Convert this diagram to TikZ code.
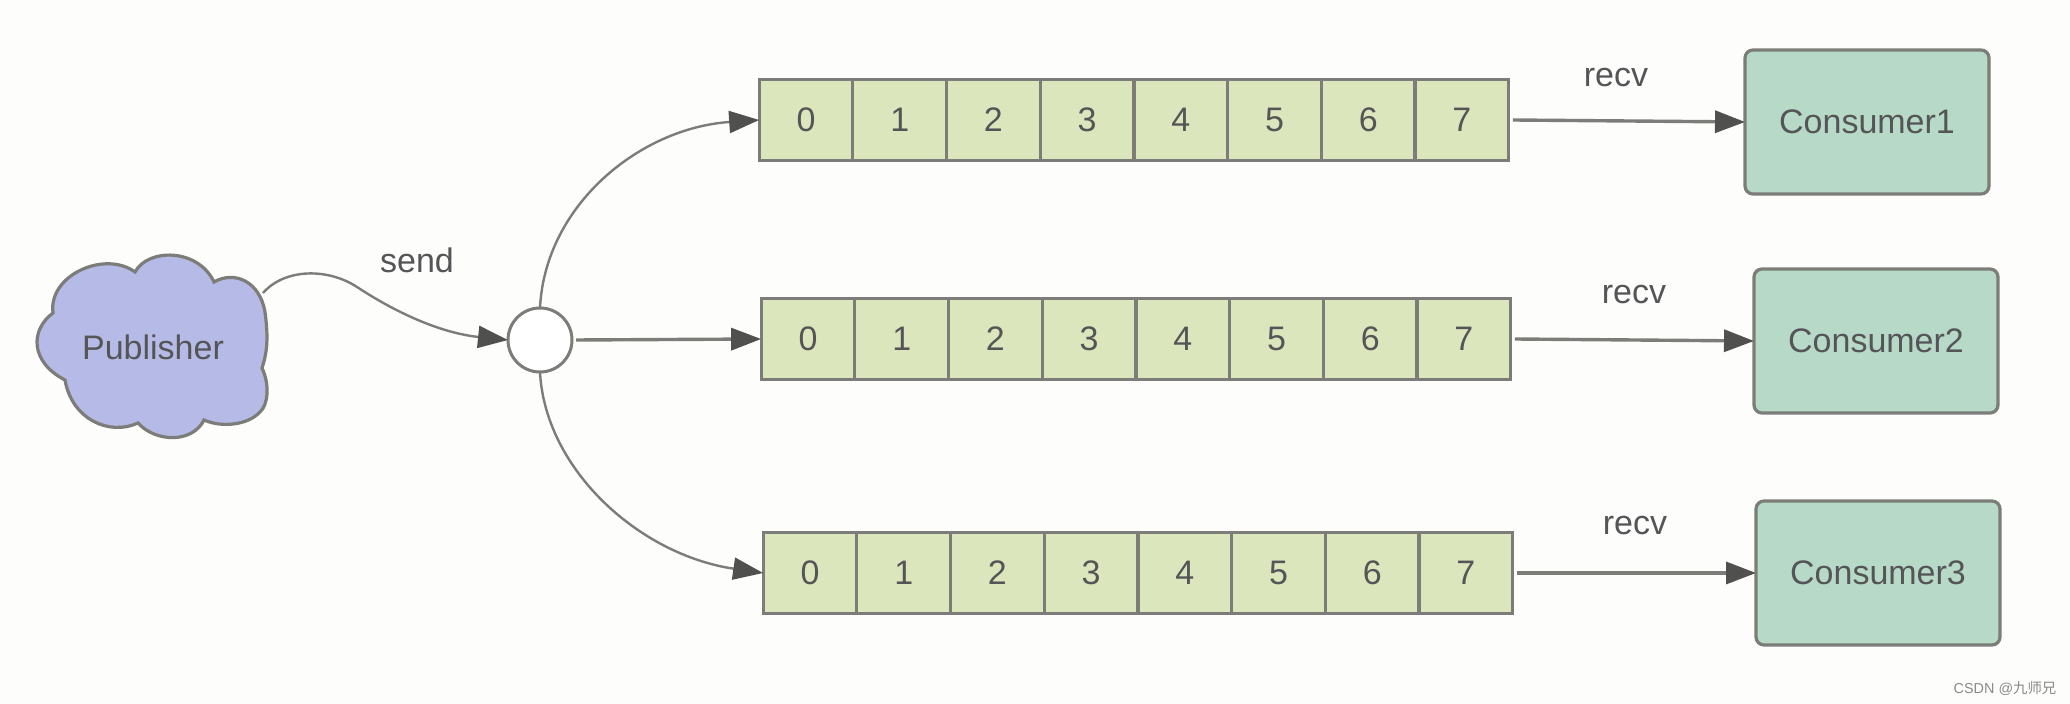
\documentclass[tikz,border=0pt]{standalone}
\usepackage{fontspec}
\setmainfont{Liberation Sans}
\newfontfamily\cjkfont{Noto Sans CJK SC}
\usetikzlibrary{arrows.meta}
\definecolor{bgc}{HTML}{FDFDFB}
\definecolor{linec}{HTML}{7C7C78}
\definecolor{tipc}{HTML}{50504E}
\definecolor{txtc}{HTML}{555558}
\definecolor{cellc}{HTML}{DCE6BC}
\definecolor{consc}{HTML}{B7DAC8}
\definecolor{cloudc}{HTML}{B5BBE6}
\definecolor{markc}{HTML}{8A8A8A}
\tikzset{
  x=0.5pt,y=-0.5pt,
  every node/.style={text=txtc,font=\fontsize{17}{20}\selectfont},
  cellbox/.style={draw=linec,line width=1.6pt,fill=cellc,minimum width=46.85pt,minimum height=40.5pt,inner sep=0pt,outer sep=0pt},
  consbox/.style={draw=linec,line width=1.6pt,fill=consc,rounded corners=4pt,inner sep=0pt,outer sep=0pt,minimum width=122pt,minimum height=72pt},
  flow/.style={draw=linec,line width=1.7pt,-{Triangle[length=15pt,width=11pt,fill=tipc,color=tipc]}},
  curveflow/.style={flow,line width=1.2pt},
  lbl/.style={inner sep=0pt},
}
\begin{document}
\begin{tikzpicture}
\useasboundingbox (0,0) rectangle (2070,704);
\fill[bgc] (0,0) rectangle (2070,704);
% queues
\foreach \r/\xs/\ys in {1/806/120,2/808/339,3/810/573}{
  \foreach \c in {0,...,7}{
    \node[cellbox] (r\r c\c) at ({\xs+\c*93.7},\ys) {\c};
  }
}
% consumers
\node[consbox] (cons1) at (1867,122) {Consumer1};
\node[consbox] (cons2) at (1876,341) {Consumer2};
\node[consbox] (cons3) at (1878,573) {Consumer3};
% publisher cloud
\draw[draw=linec,line width=1.6pt,fill=cloudc]
  (135,272) .. controls (148,248) and (198,248) .. (214,282)
  .. controls (235,270) and (260,282) .. (265,312)
  .. controls (268,335) and (268,350) .. (262,368)
  .. controls (270,385) and (268,405) .. (260,412)
  .. controls (248,425) and (222,428) .. (204,420)
  .. controls (192,444) and (155,442) .. (138,423)
  .. controls (110,436) and (72,420) .. (65,380)
  .. controls (30,362) and (30,330) .. (53,313)
  .. controls (48,275) and (105,250) .. (135,272) -- cycle;
\node (pub) at (153,347) {Publisher};
\coordinate (pubout) at (263,293);
\coordinate (sendmid) at (357,287);
% exchange
\node[draw=linec,line width=1.5pt,fill=white,circle,minimum size=32pt,inner sep=0pt,outer sep=0pt] (hub) at (540,340) {};
% connectors
\draw[curveflow] (pubout) .. controls (285,268) and (328,268) .. (sendmid) .. controls (395,312) and (440,333) .. (hub.west);
\draw[curveflow] (hub.north) .. controls (545,205) and (640,128) .. (r1c0.west);
\draw[flow] ([xshift=2pt]hub.east) -- (r2c0.west);
\draw[curveflow] (hub.south) .. controls (545,470) and (640,555) .. (r3c0.west);
\draw[flow] ([xshift=2pt]r1c7.east) -- (cons1.west);
\draw[flow] ([xshift=2pt]r2c7.east) -- (cons2.west);
\draw[flow] ([xshift=2pt]r3c7.east) -- (cons3.west);
% labels
\node[lbl] (send) at (417,260) {send};
\node[lbl] (recv1) at (1616,78) {recv};
\node[lbl] (recv2) at (1634,295) {recv};
\node[lbl] (recv3) at (1635,526) {recv};
\node[lbl,text=markc,font=\fontsize{7.2}{9}\selectfont] (mark) at (2005,688) {CSDN @{\cjkfont 九师兄}};
\end{tikzpicture}
\end{document}
